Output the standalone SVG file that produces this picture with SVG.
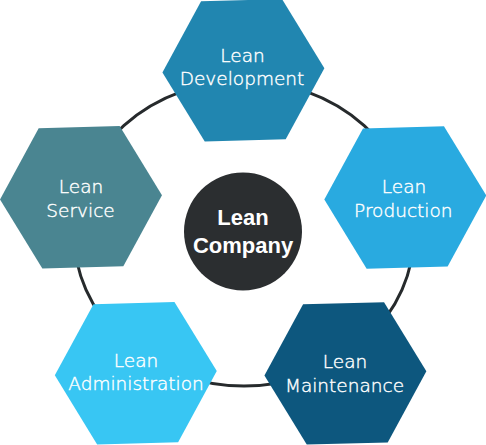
<svg xmlns="http://www.w3.org/2000/svg" xmlns:xlink="http://www.w3.org/1999/xlink" width="486" height="445" viewBox="0 0 486 445">
<style>
.ring{fill:none;stroke:#262a2c;stroke-width:3}
.lbl{font-family:"DejaVu Sans","Liberation Sans",sans-serif;font-weight:300;font-size:18.5px;fill:#ffffff;stroke:#ffffff;stroke-width:0.4;text-anchor:middle}
.clbl{font-family:"Liberation Sans","DejaVu Sans",sans-serif;font-weight:bold;font-size:22px;fill:#ffffff;text-anchor:middle}
</style>
<defs>
<polygon id="hex" points="81,0 40.5,70.15 -40.5,70.15 -81,0 -40.5,-70.15 40.5,-70.15"/>
</defs>
<g id="connectors">
<ellipse class="ring" cx="244" cy="233.5" rx="170" ry="152.5"/>
</g>
<g id="development">
<use xlink:href="#hex" href="#hex" transform="translate(243.4,70.3) rotate(-1.5)" fill="#2186b0"/>
<text class="lbl" x="242.5" y="62">Lean</text>
<text class="lbl" x="242" y="85">Development</text>
</g>
<g id="service">
<use xlink:href="#hex" href="#hex" transform="translate(81,197.3) rotate(-1.5)" fill="#4a8591"/>
<text class="lbl" x="81" y="193.3">Lean</text>
<text class="lbl" x="80.5" y="216.7">Service</text>
</g>
<g id="production">
<use xlink:href="#hex" href="#hex" transform="translate(405.3,197.5) rotate(-1.5)" fill="#29aae0"/>
<text class="lbl" x="404" y="193.3">Lean</text>
<text class="lbl" x="403.3" y="216.7">Production</text>
</g>
<g id="administration">
<use xlink:href="#hex" href="#hex" transform="translate(135.8,373.2) rotate(-1.5)" fill="#38c6f3"/>
<text class="lbl" x="136" y="366.7">Lean</text>
<text class="lbl" x="136" y="390">Administration</text>
</g>
<g id="maintenance">
<use xlink:href="#hex" href="#hex" transform="translate(345.4,373.4) rotate(-1.5)" fill="#0d577e"/>
<text class="lbl" x="345" y="368.3">Lean</text>
<text class="lbl" x="344.5" y="391.7">Maintenance</text>
</g>
<g id="company">
<circle cx="243" cy="231.5" r="59" fill="#2b2e30"/>
<text class="clbl" x="243" y="225">Lean</text>
<text class="clbl" x="243" y="253">Company</text>
</g>
</svg>
